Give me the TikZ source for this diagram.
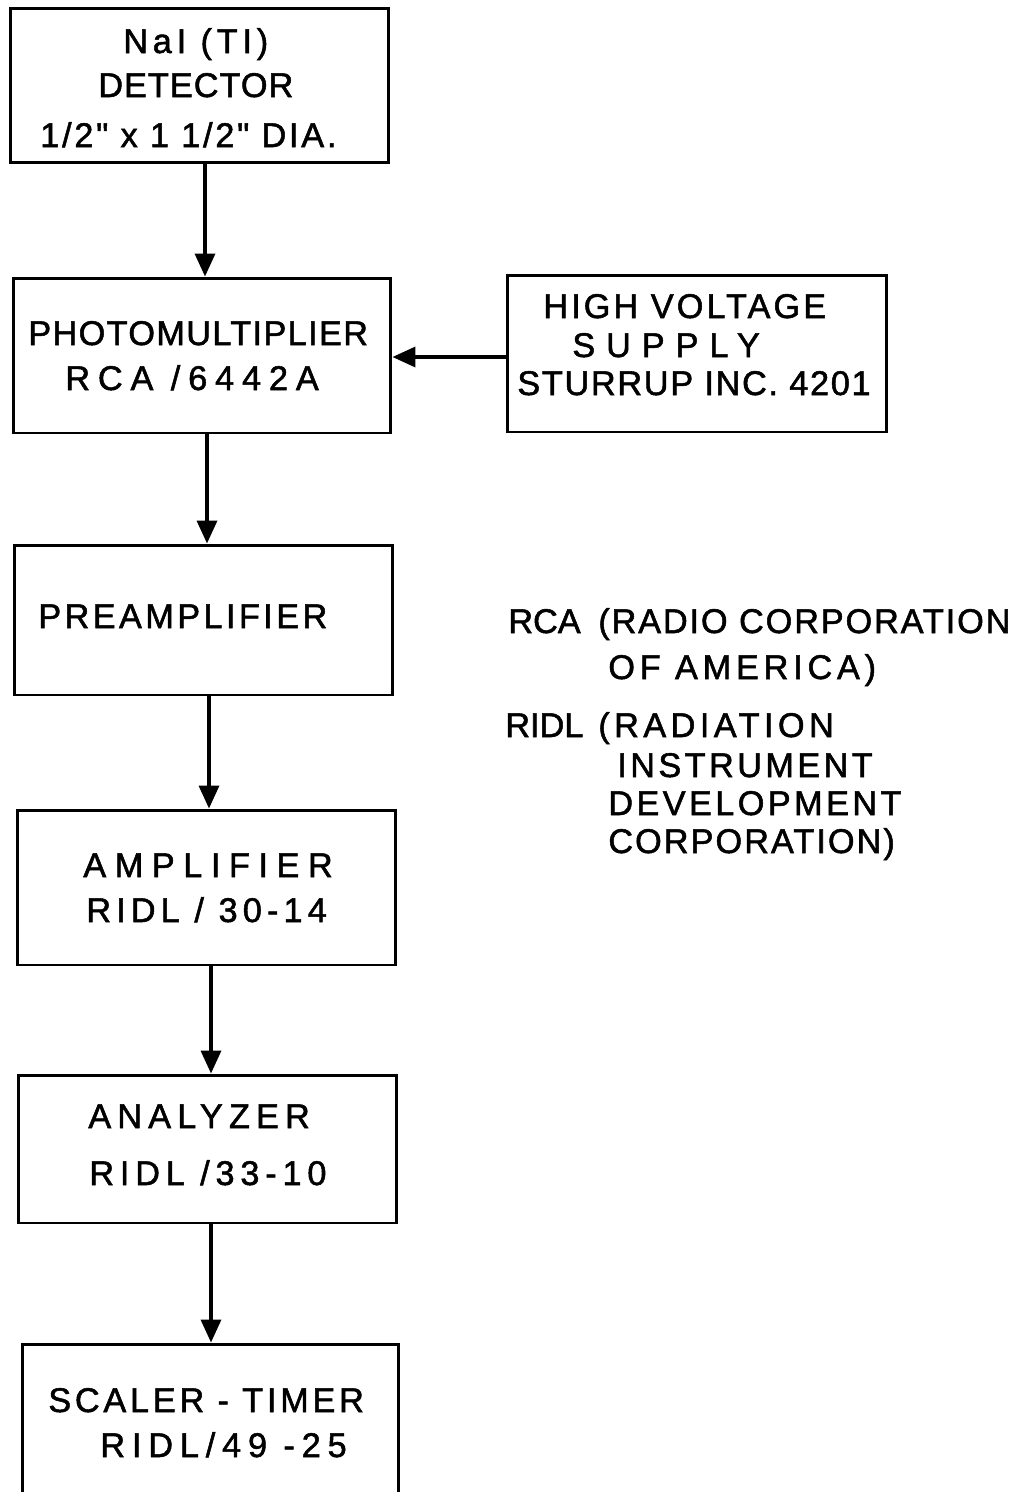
\documentclass[tikz,border=0pt]{standalone}
\usepackage{fontspec}
\newfontfamily\lettering{Liberation Sans}[FakeBold=1.5]
\usetikzlibrary{arrows.meta}
\newcommand{\lsp}[2]{{\addfontfeature{LetterSpace=#1}#2}}
\begin{document}
\begin{tikzpicture}[x=0.02cm,y=-0.02cm,
  blk/.style={draw,line width=1.7pt,inner sep=0pt,rectangle},
  txt/.style={inner sep=0pt,anchor=base west,font=\lettering\fontsize{19.5}{23}\selectfont},
  arr/.style={line width=2pt,-{Triangle[length=0.46cm,width=0.4cm]}}]
\useasboundingbox (0,0) rectangle (1023,1492);
\clip (0,0) rectangle (1023,1492);
\fill[white] (0,0) rectangle (1023,1492);
% boxes
\node[blk,minimum width=7.58cm,minimum height=3.10cm] (b1) at (199.5,85.5) {};
\node[blk,minimum width=7.56cm,minimum height=3.10cm] (b2) at (202,355.5) {};
\node[blk,minimum width=7.60cm,minimum height=3.14cm] (hv) at (697,353.5) {};
\node[blk,minimum width=7.58cm,minimum height=3.00cm] (b3) at (203.5,620) {};
\node[blk,minimum width=7.58cm,minimum height=3.10cm] (b4) at (206.5,887.5) {};
\node[blk,minimum width=7.58cm,minimum height=2.96cm] (b5) at (207.5,1149) {};
\node[blk,minimum width=7.54cm,minimum height=3.40cm] (b6) at (210.5,1429) {};
% texts
\node[txt] (t1a) at (123,53) {\lsp{14}{NaI (TI)}};
\node[txt] (t1b) at (98,97) {\lsp{3}{DETECTOR}};
\node[txt] (t1c) at (40,147) {\lsp{8}{1/2" x 1 1/2" DIA.}};
\node[txt] (t2a) at (28,345) {\lsp{4}{PHOTOMULTIPLIER}};
\node[txt] (t2b) at (65,390) {\lsp{23}{RCA /6442A}};
\node[txt] (tha) at (543,318) {\lsp{9}{HIGH VOLTAGE}};
\node[txt] (thb) at (572,357) {\lsp{32}{SUPPLY}};
\node[txt] (thc) at (517,395) {\lsp{5}{STURRUP INC. 4201}};
\node[txt] (t3) at (38,628) {\lsp{10}{PREAMPLIFIER}};
\node[txt] (t4a) at (83,877) {\lsp{25}{AMPLIFIER}};
\node[txt] (t4b) at (86,922) {\lsp{15}{RIDL / 30-14}};
\node[txt] (t5a) at (88,1128) {\lsp{18}{ANALYZER}};
\node[txt] (t5b) at (89,1185) {\lsp{17}{RIDL /33-10}};
\node[txt] (t6a) at (48,1412) {\lsp{11}{SCALER - TIMER}};
\node[txt] (t6b) at (100,1457) {\lsp{20}{RIDL/49 -25}};
% legend
\node[txt] (l1) at (508,633) {RCA};
\node[txt] (l1a) at (598,633) {\lsp{5.5}{(RADIO CORPORATION}};
\node[txt] (l1b) at (608,679) {\lsp{14}{OF AMERICA)}};
\node[txt] (l2) at (505,737) {RIDL};
\node[txt] (l2a) at (598,737) {\lsp{13}{(RADIATION}};
\node[txt] (l2b) at (617,777) {\lsp{10}{INSTRUMENT}};
\node[txt] (l2c) at (608,815) {\lsp{10}{DEVELOPMENT}};
\node[txt] (l2d) at (608,853) {\lsp{6}{CORPORATION)}};
% connector guides
\coordinate (c1) at (205,0);
\coordinate (c2) at (207,0);
\coordinate (c3) at (209,0);
\coordinate (c4) at (211,0);
\coordinate (c5) at (211,0);
\coordinate (ch) at (0,357);
% connectors
\draw[arr] (b1.south -| c1) -- (b2.north -| c1);
\draw[arr] (hv.west |- ch) -- (b2.east |- ch);
\draw[arr] (b2.south -| c2) -- (b3.north -| c2);
\draw[arr] (b3.south -| c3) -- (b4.north -| c3);
\draw[arr] (b4.south -| c4) -- (b5.north -| c4);
\draw[arr] (b5.south -| c5) -- (b6.north -| c5);
\end{tikzpicture}
\end{document}
